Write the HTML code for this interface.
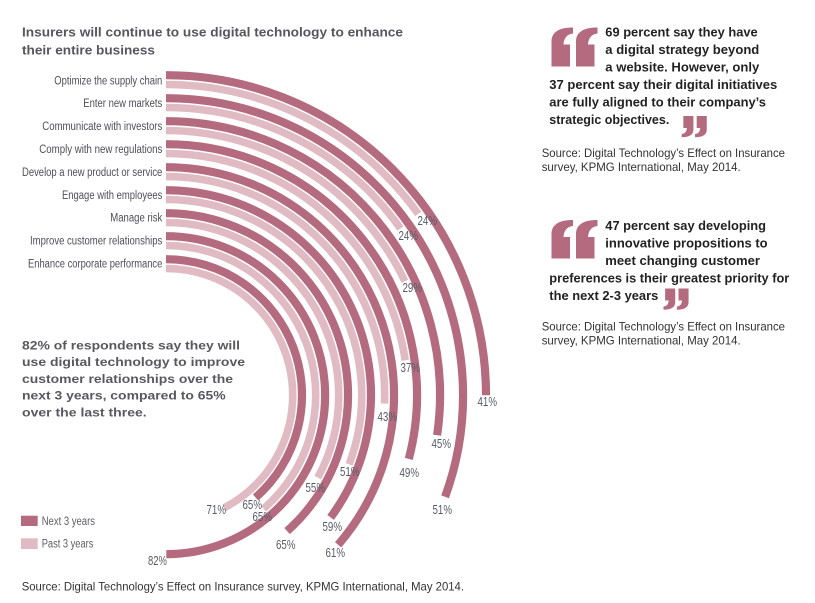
<!DOCTYPE html>
<html>
<head>
<meta charset="utf-8">
<style>
  html, body { margin:0; padding:0; background:#ffffff; }
  svg { display:block; }
  .cat { font-family:"Liberation Sans", Arial, sans-serif; font-size:11.5px; fill:#4e4e5a; }
  .pct { font-family:"Liberation Sans", Arial, sans-serif; font-size:12.5px; fill:#575b68; }
  .ttl { font-family:"Liberation Sans", Arial, sans-serif; font-size:13px; font-weight:bold; fill:#56565e; }
  .par { font-family:"Liberation Sans", Arial, sans-serif; font-size:12px; font-weight:bold; fill:#58585f; }
  .qt  { font-family:"Liberation Sans", Arial, sans-serif; font-size:12.5px; font-weight:bold; fill:#222222; }
  .src { font-family:"Liberation Sans", Arial, sans-serif; font-size:12px; fill:#333333; }
  .leg { font-family:"Liberation Sans", Arial, sans-serif; font-size:11.5px; fill:#5e5e68; }
</style>
</head>
<body>
<svg width="815" height="603" viewBox="0 0 815 603" xmlns="http://www.w3.org/2000/svg">
  <rect x="0" y="0" width="815" height="603" fill="#ffffff"/>

  <!-- Title -->
  <text class="ttl" x="22" y="36.7" textLength="381" lengthAdjust="spacingAndGlyphs">Insurers will continue to use digital technology to enhance</text>
  <text class="ttl" x="22" y="54.3" textLength="133" lengthAdjust="spacingAndGlyphs">their entire business</text>

  <!-- Arcs: light (past 3 years) -->
  <g fill="none" stroke="#e0bbc3" stroke-width="7.6" stroke-linecap="butt">
    <path d="M166 84.5 A310.7 310.7 0 0 1 418.3 213.9"/>
    <path d="M166 107.5 A287.7 287.7 0 0 1 400.5 228.5"/>
    <path d="M166 130.5 A264.7 264.7 0 0 1 404.9 281.2"/>
    <path d="M166 153.5 A241.7 241.7 0 0 1 405.2 360.3"/>
    <path d="M166 176.5 A218.7 218.7 0 0 1 384.5 403.6"/>
    <path d="M166 199.5 A195.7 195.7 0 0 1 349.1 464.4"/>
    <path d="M166 222.5 A172.7 172.7 0 0 1 317.8 477.6"/>
    <path d="M166 245.5 A149.7 149.7 0 0 1 263.6 508.7"/>
    <path d="M166 268.5 A126.7 126.7 0 0 1 224.3 507.7"/>
  </g>
  <!-- Arcs: dark (next 3 years) -->
  <g fill="none" stroke="#b56b7f" stroke-width="8.2" stroke-linecap="butt">
    <path d="M166 75.2 A320 320 0 0 1 486 395.2"/>
    <path d="M166 98.2 A297 297 0 0 1 445.1 496.8"/>
    <path d="M166 121.2 A274 274 0 0 1 437.1 435.2"/>
    <path d="M166 144.2 A251 251 0 0 1 408.8 458.9"/>
    <path d="M166 167.2 A228 228 0 0 1 338.1 544.8"/>
    <path d="M166 190.2 A205 205 0 0 1 330.6 517.4"/>
    <path d="M166 213.2 A182 182 0 0 1 287.1 531.1"/>
    <path d="M166 236.2 A159 159 0 0 1 166.28 554.2"/>
    <path d="M166 259.2 A136 136 0 0 1 255.6 497.5"/>
  </g>

  <!-- Category labels -->
  <text class="cat" x="54.3" y="84.3" textLength="108" lengthAdjust="spacingAndGlyphs">Optimize the supply chain</text>
  <text class="cat" x="83.3" y="107.2" textLength="79" lengthAdjust="spacingAndGlyphs">Enter new markets</text>
  <text class="cat" x="42.3" y="130.1" textLength="120" lengthAdjust="spacingAndGlyphs">Communicate with investors</text>
  <text class="cat" x="39.3" y="153.0" textLength="123" lengthAdjust="spacingAndGlyphs">Comply with new regulations</text>
  <text class="cat" x="22" y="175.9" textLength="140.3" lengthAdjust="spacingAndGlyphs">Develop a new product or service</text>
  <text class="cat" x="62" y="198.8" textLength="100.3" lengthAdjust="spacingAndGlyphs">Engage with employees</text>
  <text class="cat" x="110.3" y="221.7" textLength="52" lengthAdjust="spacingAndGlyphs">Manage risk</text>
  <text class="cat" x="30" y="244.6" textLength="132.3" lengthAdjust="spacingAndGlyphs">Improve customer relationships</text>
  <text class="cat" x="28" y="267.5" textLength="134.3" lengthAdjust="spacingAndGlyphs">Enhance corporate performance</text>

  <!-- Percentage labels -->
  <g>
    <text class="pct" x="417.5" y="225" textLength="19.5" lengthAdjust="spacingAndGlyphs">24%</text>
    <text class="pct" x="398.5" y="240" textLength="19.5" lengthAdjust="spacingAndGlyphs">24%</text>
    <text class="pct" x="402.5" y="292" textLength="19.5" lengthAdjust="spacingAndGlyphs">29%</text>
    <text class="pct" x="400.5" y="372" textLength="19.5" lengthAdjust="spacingAndGlyphs">37%</text>
    <text class="pct" x="477.5" y="406" textLength="19.5" lengthAdjust="spacingAndGlyphs">41%</text>
    <text class="pct" x="377.5" y="421" textLength="19.5" lengthAdjust="spacingAndGlyphs">43%</text>
    <text class="pct" x="431.5" y="448" textLength="19.5" lengthAdjust="spacingAndGlyphs">45%</text>
    <text class="pct" x="399.5" y="477" textLength="19.5" lengthAdjust="spacingAndGlyphs">49%</text>
    <text class="pct" x="432.5" y="514" textLength="19.5" lengthAdjust="spacingAndGlyphs">51%</text>
    <text class="pct" x="340" y="476" textLength="19.5" lengthAdjust="spacingAndGlyphs">51%</text>
    <text class="pct" x="305.5" y="492" textLength="19.5" lengthAdjust="spacingAndGlyphs">55%</text>
    <text class="pct" x="322.5" y="531" textLength="19.5" lengthAdjust="spacingAndGlyphs">59%</text>
    <text class="pct" x="325.5" y="557" textLength="19.5" lengthAdjust="spacingAndGlyphs">61%</text>
    <text class="pct" x="276" y="549" textLength="19.5" lengthAdjust="spacingAndGlyphs">65%</text>
    <text class="pct" x="242.5" y="509" textLength="19.5" lengthAdjust="spacingAndGlyphs">65%</text>
    <text class="pct" x="252.5" y="521" textLength="19.5" lengthAdjust="spacingAndGlyphs">65%</text>
    <text class="pct" x="206.5" y="514" textLength="19.5" lengthAdjust="spacingAndGlyphs">71%</text>
    <text class="pct" x="148" y="565.2" textLength="19" lengthAdjust="spacingAndGlyphs">82%</text>
  </g>

  <!-- Left paragraph -->
  <text class="par" x="22" y="349.5" textLength="218" lengthAdjust="spacingAndGlyphs">82% of respondents say they will</text>
  <text class="par" x="22" y="366.2" textLength="223" lengthAdjust="spacingAndGlyphs">use digital technology to improve</text>
  <text class="par" x="22" y="382.9" textLength="211" lengthAdjust="spacingAndGlyphs">customer relationships over the</text>
  <text class="par" x="22" y="399.6" textLength="203.7" lengthAdjust="spacingAndGlyphs">next 3 years, compared to 65%</text>
  <text class="par" x="22" y="416.3" textLength="124.7" lengthAdjust="spacingAndGlyphs">over the last three.</text>

  <!-- Legend -->
  <rect x="21" y="515.7" width="16.7" height="10.3" fill="#b56b7f"/>
  <text class="leg" x="41.7" y="525.2" textLength="53.3" lengthAdjust="spacingAndGlyphs">Next 3 years</text>
  <rect x="21" y="538.3" width="16.7" height="10.7" fill="#e0bbc3"/>
  <text class="leg" x="41.7" y="547.7" textLength="51.7" lengthAdjust="spacingAndGlyphs">Past 3 years</text>

  <!-- Footer -->
  <text class="src" x="21.7" y="590.5" textLength="442.3" lengthAdjust="spacingAndGlyphs">Source: Digital Technology’s Effect on Insurance survey, KPMG International, May 2014.</text>

  <!-- Quote 1 -->
  <g fill="#b56b7f">
    <g transform="translate(551.5,27.5)">
      <path d="M0 39 L0 14 C0 5 7 0 21.5 0 L21.5 6 C16 6.5 12.5 10 12 17 L18.5 17 L18.5 39 Z"/>
      <path transform="translate(24.5,0)" d="M0 39 L0 14 C0 5 7 0 21.5 0 L21.5 6 C16 6.5 12.5 10 12 17 L18.5 17 L18.5 39 Z"/>
    </g>
    <g transform="translate(681.7,116) scale(0.545)">
      <path transform="rotate(180 10.75 19.5)" d="M0 39 L0 14 C0 5 7 0 21.5 0 L21.5 6 C16 6.5 12.5 10 12 17 L18.5 17 L18.5 39 Z"/>
      <path transform="translate(24.5,0) rotate(180 10.75 19.5)" d="M0 39 L0 14 C0 5 7 0 21.5 0 L21.5 6 C16 6.5 12.5 10 12 17 L18.5 17 L18.5 39 Z"/>
    </g>
  </g>
  <text class="qt" x="605.3" y="36.3" textLength="152.4" lengthAdjust="spacingAndGlyphs">69 percent say they have</text>
  <text class="qt" x="605.3" y="53.8" textLength="154" lengthAdjust="spacingAndGlyphs">a digital strategy beyond</text>
  <text class="qt" x="605.3" y="71.3" textLength="154" lengthAdjust="spacingAndGlyphs">a website. However, only</text>
  <text class="qt" x="549.3" y="88.8" textLength="228" lengthAdjust="spacingAndGlyphs">37 percent say their digital initiatives</text>
  <text class="qt" x="549.3" y="106.3" textLength="216.7" lengthAdjust="spacingAndGlyphs">are fully aligned to their company’s</text>
  <text class="qt" x="549.3" y="123.8" textLength="120" lengthAdjust="spacingAndGlyphs">strategic objectives.</text>
  <text class="src" x="541.7" y="157.2" textLength="243.3" lengthAdjust="spacingAndGlyphs">Source: Digital Technology’s Effect on Insurance</text>
  <text class="src" x="541.7" y="171" textLength="199" lengthAdjust="spacingAndGlyphs">survey, KPMG International, May 2014.</text>

  <!-- Quote 2 -->
  <g fill="#b56b7f">
    <g transform="translate(551.5,220)">
      <path d="M0 38.5 L0 14 C0 5 7 0 21.5 0 L21.5 6 C16 6.5 12.5 10 12 17 L18.5 17 L18.5 38.5 Z"/>
      <path transform="translate(24.5,0)" d="M0 38.5 L0 14 C0 5 7 0 21.5 0 L21.5 6 C16 6.5 12.5 10 12 17 L18.5 17 L18.5 38.5 Z"/>
    </g>
    <g transform="translate(663.5,288.5) scale(0.545)">
      <path transform="rotate(180 10.75 19.5)" d="M0 39 L0 14 C0 5 7 0 21.5 0 L21.5 6 C16 6.5 12.5 10 12 17 L18.5 17 L18.5 39 Z"/>
      <path transform="translate(24.5,0) rotate(180 10.75 19.5)" d="M0 39 L0 14 C0 5 7 0 21.5 0 L21.5 6 C16 6.5 12.5 10 12 17 L18.5 17 L18.5 39 Z"/>
    </g>
  </g>
  <text class="qt" x="605.3" y="229.8" textLength="160.7" lengthAdjust="spacingAndGlyphs">47 percent say developing</text>
  <text class="qt" x="605.3" y="247.4" textLength="162.3" lengthAdjust="spacingAndGlyphs">innovative propositions to</text>
  <text class="qt" x="605.3" y="265" textLength="154.7" lengthAdjust="spacingAndGlyphs">meet changing customer</text>
  <text class="qt" x="549.3" y="282.6" textLength="240" lengthAdjust="spacingAndGlyphs">preferences is their greatest priority for</text>
  <text class="qt" x="549.3" y="300.2" textLength="109" lengthAdjust="spacingAndGlyphs">the next 2-3 years</text>
  <text class="src" x="541.7" y="330.5" textLength="243.3" lengthAdjust="spacingAndGlyphs">Source: Digital Technology’s Effect on Insurance</text>
  <text class="src" x="541.7" y="344.5" textLength="199" lengthAdjust="spacingAndGlyphs">survey, KPMG International, May 2014.</text>
</svg>
</body>
</html>
